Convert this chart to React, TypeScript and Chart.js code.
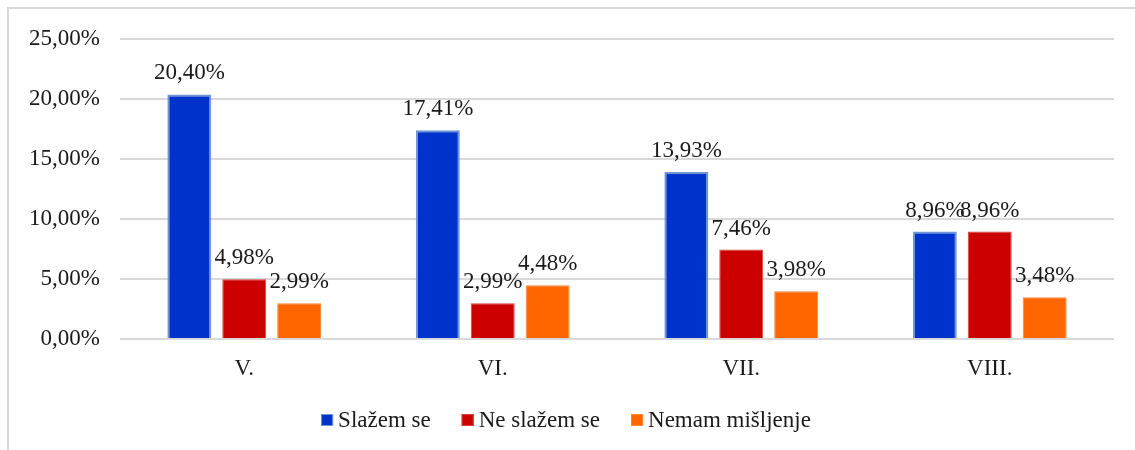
import React, { useEffect, useRef } from "react";
import { Chart, registerables } from "chart.js";

Chart.register(...registerables);

const categories = ["V.", "VI.", "VII.", "VIII."];
const seriesNames = ["Slažem se", "Ne slažem se", "Nemam mišljenje"];
const slazemSe = [20.4, 17.41, 13.93, 8.96];
const neSlazemSe = [4.98, 2.99, 7.46, 8.96];
const nemamMisljenje = [2.99, 4.48, 3.98, 3.48];
const yTicks = [0, 5, 10, 15, 20, 25];

const FONT = "'Liberation Serif', 'Times New Roman', serif";
const TEXT = "#1a1a1a";
const FS = 23;

const fmt = (v: number) => v.toFixed(2).replace(".", ",") + "%";

const labelPlugin = {
  id: "barLabels",
  afterDatasetsDraw(chart: any) {
    const ctx = chart.ctx;
    ctx.save();
    ctx.font = `${FS}px ${FONT}`;
    ctx.fillStyle = TEXT;
    ctx.textAlign = "center";
    ctx.textBaseline = "alphabetic";
    chart.data.datasets.forEach((ds: any, i: number) => {
      const meta = chart.getDatasetMeta(i);
      meta.data.forEach((bar: any, j: number) => {
        ctx.fillText(fmt(ds.data[j]), bar.x, bar.y - 15);
      });
    });
    ctx.restore();
  },
};

const legendPlugin = {
  id: "customLegend",
  afterDraw(chart: any) {
    const ctx = chart.ctx;
    ctx.save();
    ctx.font = `${FS}px ${FONT}`;
    ctx.textBaseline = "middle";
    ctx.textAlign = "left";
    const box = 12;
    const gap = 5;
    const spacing = 31;
    const items = chart.data.datasets.map((ds: any) => ({
      text: ds.label,
      color: ds.backgroundColor,
      border: ds.borderColor,
      w: box + gap + ctx.measureText(ds.label).width,
    }));
    const total =
      items.reduce((s: number, it: any) => s + it.w, 0) + spacing * (items.length - 1);
    let x = 557 - total / 2;
    const y = 411;
    items.forEach((it: any) => {
      ctx.fillStyle = it.color;
      ctx.fillRect(x, y - box / 2, box, box);
      ctx.strokeStyle = it.border;
      ctx.lineWidth = 1;
      ctx.strokeRect(x + 0.5, y - box / 2 + 0.5, box - 1, box - 1);
      ctx.fillStyle = TEXT;
      ctx.fillText(it.text, x + box + gap, y + 1);
      x += it.w + spacing;
    });
    ctx.restore();
  },
};

export default function App() {
  const ref = useRef<HTMLCanvasElement | null>(null);
  useEffect(() => {
    if (!ref.current) return;
    const chart = new Chart(ref.current, {
      type: "bar",
      data: {
        labels: categories,
        datasets: [
          {
            label: seriesNames[0],
            data: slazemSe,
            backgroundColor: "#0033CC",
            borderColor: "#6F95D6",
            borderWidth: 2,
          },
          {
            label: seriesNames[1],
            data: neSlazemSe,
            backgroundColor: "#CC0000",
            borderColor: "#D94040",
            borderWidth: 1,
          },
          {
            label: seriesNames[2],
            data: nemamMisljenje,
            backgroundColor: "#FF6600",
            borderColor: "#FF8533",
            borderWidth: 1,
          },
        ],
      },
      options: {
        animation: false,
        responsive: true,
        maintainAspectRatio: false,
        layout: { padding: { top: 20, right: 21, bottom: 51, left: 0 } },
        datasets: {
          bar: { categoryPercentage: 0.663, barPercentage: 0.8 },
        },
        plugins: {
          tooltip: { enabled: false },
          legend: { display: false },
        },
        scales: {
          x: {
            grid: { display: false, drawTicks: false },
            border: { display: false },
            ticks: {
              color: TEXT,
              font: { family: FONT, size: FS },
              padding: 16,
            },
            afterFit(scale: any) {
              scale.height = 60;
            },
          },
          y: {
            min: 0,
            max: 25,
            afterBuildTicks(scale: any) {
              scale.ticks = yTicks.map((v) => ({ value: v }));
            },
            grid: { color: "#D9D9D9", lineWidth: 2, drawTicks: false },
            border: { display: false },
            ticks: {
              color: TEXT,
              font: { family: FONT, size: FS, lineHeight: 0.9 },
              padding: 20,
              callback: (v: any) => fmt(Number(v)),
            },
            afterFit(scale: any) {
              scale.width = 111;
            },
          },
        },
      },
      plugins: [labelPlugin, legendPlugin],
    });
    return () => chart.destroy();
  }, []);

  return (
    <div
      style={{
        position: "fixed",
        left: 7,
        top: 7,
        width: 1128,
        height: 443,
        boxSizing: "border-box",
        borderLeft: "2px solid #D9D9D9",
        borderTop: "2px solid #D9D9D9",
        background: "#fff",
      }}
    >
      <div style={{ position: "relative", width: 1126, height: 441 }}>
        <canvas ref={ref} />
      </div>
    </div>
  );
}
